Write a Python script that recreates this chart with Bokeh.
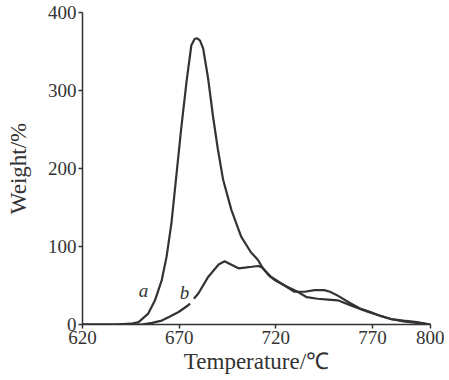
from bokeh.plotting import figure
from bokeh.models import Range1d, FixedTicker
from bokeh.core.properties import value
from bokeh.embed import file_html
from bokeh.resources import INLINE

# Curve a
temp_a = [620, 637, 645, 649, 654, 657.5, 661, 663.5, 666, 667.8, 671, 673.8, 676.3, 678, 679.3,
          680.8, 682.4, 685, 687.5, 690, 692.7, 697, 702, 707, 710.7, 713.3, 717.6, 724.5, 731.3,
          736, 741.6, 747, 752, 758.8, 765.7, 769, 779.5, 786, 793, 800]
weight_a = [0, 0, 1, 3, 14, 31, 57, 87, 130, 173, 250, 311, 358, 366, 367,
            364, 354, 315, 267, 225, 186, 147, 113, 93, 83, 72, 61, 50, 42,
            35, 33, 32, 31, 24.5, 18, 15, 7, 4, 2, 0]

# Curve b (the scan shows a short break just after the label "b")
temp_b = [620, 650.5, 656, 661, 665, 669.7, 674.9, 675.6, 676.5, 677.6, 680, 685, 690.4, 693.5, 696,
          700.7, 704, 707.6, 711, 713, 716.3, 720, 724.5, 729.6, 735, 740, 745, 748, 752,
          758.8, 764, 769, 774, 779.5, 786, 793, 800]
weight_b = [0, 0, 2, 5, 10, 16, 25, 27, float("nan"), 33, 40, 61, 77, 81, 78,
            72, 73, 74, 75, 73, 63, 56, 50, 42, 42, 44, 44, 42, 37,
            27, 20, 16, 11, 7, 5, 3, 0]

x_ticks = [620, 670, 720, 770, 800]
y_ticks = [0, 100, 200, 300, 400]

SERIF = "Liberation Serif"
INK = "#333333"

p = figure(width=444, height=376, output_backend="svg", toolbar_location=None,
           x_range=Range1d(620, 800), y_range=Range1d(0, 400),
           min_border_left=82, min_border_right=14, min_border_top=12, min_border_bottom=48)

p.line(temp_a, weight_a, line_color=INK, line_width=2.2)
p.line(temp_b, weight_b, line_color=INK, line_width=2.2)

p.text(x=[651.6], y=[44], text=["a"], text_font=value(SERIF), text_font_style="italic",
       text_font_size="19px", text_align="center", text_baseline="middle", text_color=INK)
p.text(x=[672.8], y=[41], text=["b"], text_font=value(SERIF), text_font_style="italic",
       text_font_size="19px", text_align="center", text_baseline="middle", text_color=INK)

p.grid.visible = False
p.outline_line_color = None
p.background_fill_color = "white"
p.border_fill_color = "white"

for ax in (p.xaxis[0], p.yaxis[0]):
    ax.axis_line_color = INK
    ax.axis_line_width = 1.5
    ax.major_tick_line_color = INK
    ax.major_tick_line_width = 1.5
    ax.minor_tick_line_color = None
    ax.major_tick_in = 0
    ax.major_tick_out = 4
    ax.major_label_text_font = SERIF
    ax.major_label_text_font_size = "19px"
    ax.major_label_text_color = INK
    ax.axis_label_text_font = SERIF
    ax.axis_label_text_font_size = "23px"
    ax.axis_label_text_font_style = "normal"
    ax.axis_label_text_color = INK

p.xaxis.ticker = FixedTicker(ticks=x_ticks)
p.yaxis.ticker = FixedTicker(ticks=y_ticks)
p.xaxis.axis_label = "Temperature/℃"
p.yaxis.axis_label = "Weight/%"
p.xaxis.major_label_standoff = 2
p.yaxis.major_label_standoff = 2
p.xaxis.axis_label_standoff = 2
p.yaxis.axis_label_standoff = 14

open("out.html", "w").write(file_html(p, INLINE))
